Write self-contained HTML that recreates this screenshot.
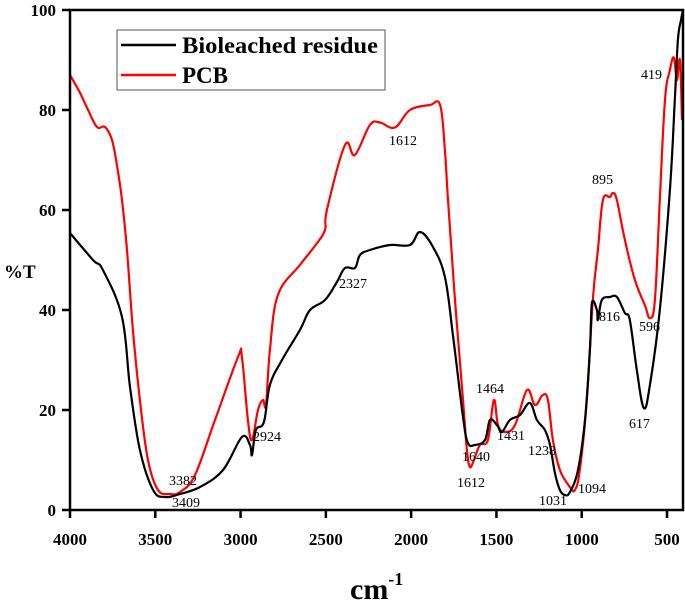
<!DOCTYPE html>
<html><head><meta charset="utf-8"><style>
html,body{margin:0;padding:0;background:#fff;}
svg{display:block;font-family:"Liberation Serif",serif;}
</style></head><body>
<svg id="chart" width="685" height="604" viewBox="0 0 685 604" xmlns="http://www.w3.org/2000/svg"></svg>
<script>
const xTicks=[4000,3500,3000,2500,2000,1500,1000,500];
const yTicks=[0,20,40,60,80,100];
const bioWave=[4000,3865,3807,3695,3648,3590,3513,3443,3355,3238,3103,2992,2945,2933,2910,2863,2828,2757,2652,2593,2505,2435,2388,2330,2300,2242,2124,2007,1948,1872,1802,1755,1696,1667,1626,1567,1538,1497,1468,1421,1362,1304,1263,1216,1186,1157,1128,1098,1069,1022,981,952,940,911,905,882,835,794,747,718,677,636,600,542,483,454,436,418,406];
const bioT=[55.4,50,48,38.6,24.6,12,4,2.6,3.2,4.6,8,14.6,13,11,16,17.6,25,30,36,40,42,45.6,48.4,48.4,51,52,53,53,55.6,52.6,46.6,35,18.6,13.4,13,14,18,17,15.6,18,19,21.4,18,16,13,7.4,4,3,3.6,8,18,32,41.4,40,38,42,42.6,42.6,39.4,38,28,20.4,25,40,64,82,94,98,100];
const pcbWave=[4000,3941,3894,3842,3795,3754,3725,3695,3666,3631,3590,3543,3484,3414,3355,3267,3150,3015,2992,2957,2933,2898,2869,2851,2828,2781,2652,2560,2505,2494,2388,2330,2242,2183,2095,2007,1890,1830,1802,1784,1743,1696,1673,1655,1632,1597,1550,1515,1491,1450,1391,1321,1274,1228,1198,1169,1128,1069,1040,1011,970,935,905,876,835,817,794,747,688,630,600,571,542,512,483,460,442,424,412];
const pcbT=[87,83.4,80,76.6,76.6,74,69,62,52,36,22,10,4,3.2,3.6,7,18,30.6,30.6,18,14,20,22,21,32,43,49,53,56,60,73,71,77,77.5,76.5,80,81,81,72,62,42,22,12,8.6,10,13,14,22,17,15.6,17,24,21,23,22,14,8,4.6,4,8,22,42,52,62,62.6,63.4,62,54,46,41,38.4,42,62,82,88,90.5,86,90,78];
const peakLabels=["3382","3409","2924","2327","1612","1464","1640","1612","1431","1238","1031","1094","895","816","596","617","419"];
const peakPos=[[169,485],[172,507],[253,441],[339,288],[389,145],[476,393],[462,461],[457,487],[497,440],[528,455],[539,505],[578,493],[592,184],[599,321],[639,331],[629,428],[641,79]];

const L=70,R=683,T=10,B=510;
const sx=w=>L+(4000-w)*(597/3500);
const sy=v=>B-v*(B-T)/100;
const NS="http://www.w3.org/2000/svg";
const svg=document.getElementById('chart');
function mk(tag,attrs,parent){const e=document.createElementNS(NS,tag);for(const k in attrs)e.setAttribute(k,attrs[k]);(parent||svg).appendChild(e);return e;}

function series(w,t,color,name){
  const P=w.map((v,i)=>[sx(v),sy(t[i])]);
  let d='M'+P[0][0].toFixed(1)+','+P[0][1].toFixed(1);
  const k=0.18;
  for(let i=0;i<P.length-1;i++){
    const p0=P[Math.max(0,i-1)],p1=P[i],p2=P[i+1],p3=P[Math.min(P.length-1,i+2)];
    const c1=[p1[0]+(p2[0]-p0[0])*k,p1[1]+(p2[1]-p0[1])*k];
    const c2=[p2[0]-(p3[0]-p1[0])*k,p2[1]-(p3[1]-p1[1])*k];
    d+='C'+c1[0].toFixed(1)+','+c1[1].toFixed(1)+' '+c2[0].toFixed(1)+','+c2[1].toFixed(1)+' '+p2[0].toFixed(1)+','+p2[1].toFixed(1);
  }
  const p=mk('path',{d:d,fill:'none',stroke:color,'stroke-width':2.2,'stroke-linejoin':'round'});
  
  
}
series(pcbWave,pcbT,'#ff0000','pcb-line');
series(bioWave,bioT,'#000000','bioleached-residue-line');

const fr=mk('rect',{x:L,y:T,width:R-L,height:B-T,fill:'none',stroke:'#000','stroke-width':2.5});



xTicks.forEach(v=>{
  const x=sx(v);
  const tk=mk('line',{x1:x,y1:B,x2:x,y2:B+8,stroke:'#000','stroke-width':2.5});
  
  
  const t=mk('text',{x:x,y:545,'text-anchor':'middle','font-size':17,'font-weight':'bold'});
  t.textContent=v;
  
  
});
yTicks.forEach(v=>{
  const y=sy(v);
  const tk=mk('line',{x1:L-8,y1:y,x2:L,y2:y,stroke:'#000','stroke-width':2.5});
  
  
  const t=mk('text',{x:L-14,y:y+6,'text-anchor':'end','font-size':17,'font-weight':'bold'});
  t.textContent=v;
  
  
});

peakLabels.forEach((s,i)=>{
  const t=mk('text',{x:peakPos[i][0],y:peakPos[i][1],'font-size':14});
  t.textContent=s;
  
  
});

const yt=mk('text',{x:4,y:278,'font-size':19,'font-weight':'bold'});
yt.textContent='%T';


const xt=mk('text',{x:350,y:599,'font-size':30,'font-weight':'bold'});
xt.innerHTML='cm<tspan dy="-14" font-size="18">-1</tspan>';



const lg=mk('g',{});


mk('rect',{x:117,y:30,width:268,height:60,fill:'#fff',stroke:'#555','stroke-width':1},lg);
mk('line',{x1:121,y1:45,x2:176,y2:45,stroke:'#000','stroke-width':2.5},lg);
mk('line',{x1:121,y1:75,x2:176,y2:75,stroke:'#ff0000','stroke-width':2.5},lg);
const l1=mk('text',{x:182,y:53,'font-size':23,'font-weight':'bold','textLength':196,'lengthAdjust':'spacingAndGlyphs'},lg);
l1.textContent='Bioleached residue';


const l2=mk('text',{x:182,y:83,'font-size':23,'font-weight':'bold'},lg);
l2.textContent='PCB';


</script>
</body></html>
